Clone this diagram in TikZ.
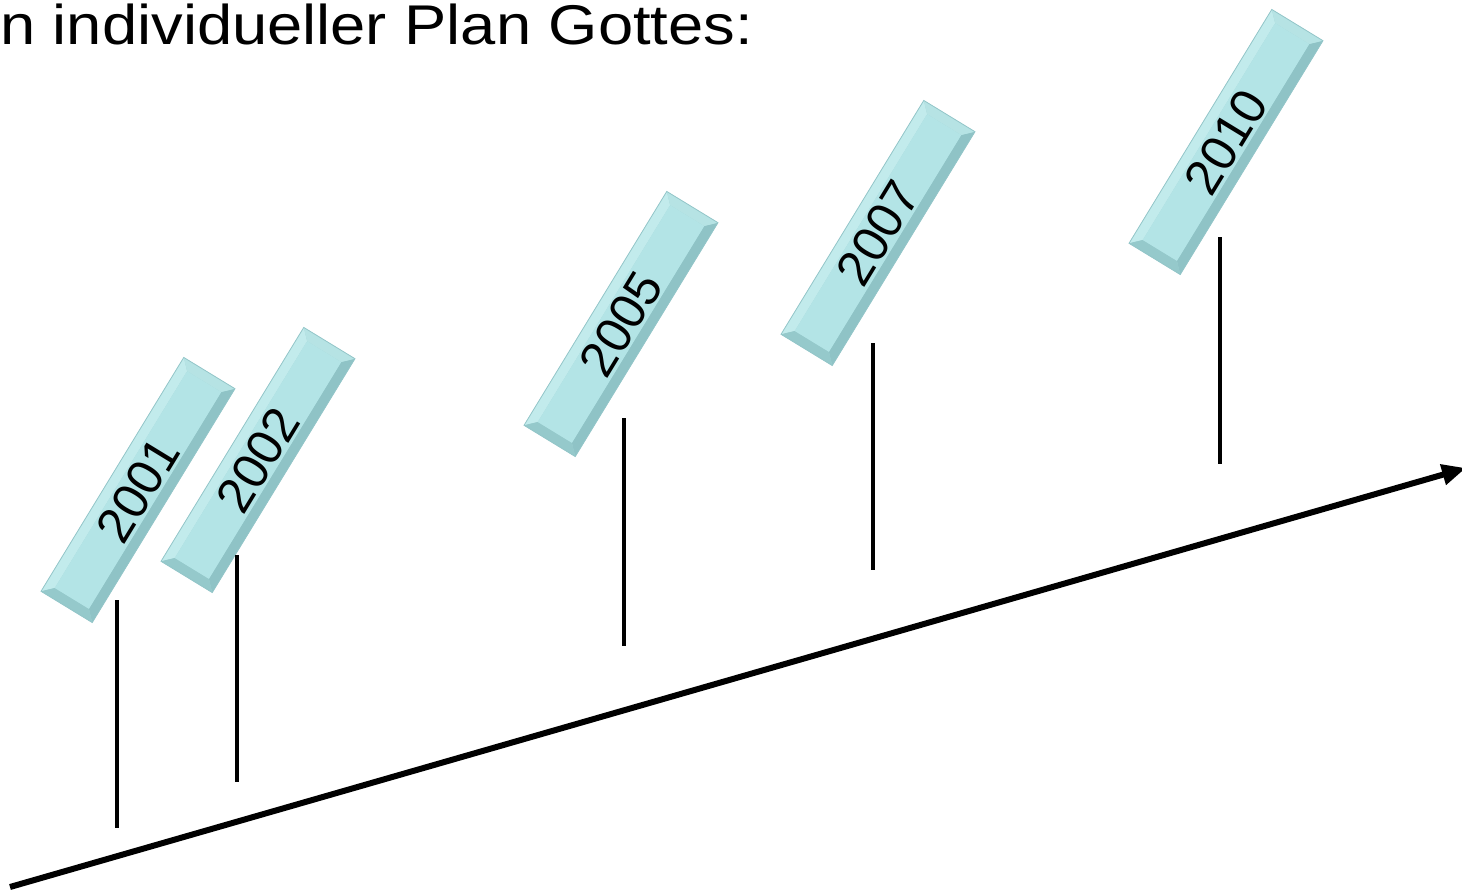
\documentclass[tikz,border=0pt]{standalone}
\usepackage{fontspec}
\setmainfont{Liberation Sans}
\usetikzlibrary{arrows.meta}
\definecolor{boxbase}{HTML}{A4D6D8}
\definecolor{boxface}{HTML}{B3E4E6}
\definecolor{boxlight}{HTML}{C2EBEC}
\definecolor{boxdark}{HTML}{8FC3C6}
\definecolor{boxedge}{HTML}{94C6C9}
\tikzset{
  tick/.style={line width=4pt},
  timeline/.style={line width=6pt, -{Triangle[length=24pt,width=20pt]}},
  yearlabel/.style={font=\fontsize{50}{50}\selectfont, rotate=58.6, inner sep=0pt},
  title/.style={font=\fontsize{56}{56}\selectfont, anchor=base west, inner sep=0pt, xscale=1.13},
}
\newcommand{\yearbox}[4]{% name, cx, cy, text
  \begin{scope}[shift={(#2,#3)}, rotate=58.6]
    \fill[boxbase] (-137,-30) rectangle (137,30);
    \fill[boxlight] (-137,-30) -- (137,-30) -- (127,-20) -- (-127,-20) -- cycle;
    \fill[boxdark] (-137,30) -- (137,30) -- (127,20) -- (-127,20) -- cycle;
    \fill[boxlight!60!boxbase] (137,-30) -- (137,30) -- (127,20) -- (127,-20) -- cycle;
    \fill[boxdark!70!boxbase] (-137,-30) -- (-137,30) -- (-127,20) -- (-127,-20) -- cycle;
    \fill[boxface] (-127,-20) rectangle (127,20);
    \draw[boxedge, line width=0.8pt] (-137,-30) rectangle (137,30);
  \end{scope}
  \node[yearlabel] (#1) at (#2,#3) {#4};
}
\begin{document}
\begin{tikzpicture}[x=1pt,y=-1pt]
\useasboundingbox (0,0) rectangle (1462,891);
\node[title] (title) at (0,45) {n individueller Plan Gottes:};
\yearbox{y2001}{138}{490}{2001}
\yearbox{y2002}{258}{460}{2002}
\yearbox{y2005}{621}{324}{2005}
\yearbox{y2007}{878}{233}{2007}
\yearbox{y2010}{1226}{142}{2010}
\coordinate (t1a) at (117,600); \coordinate (t1b) at (117,828);
\coordinate (t2a) at (237,555); \coordinate (t2b) at (237,782);
\coordinate (t5a) at (624,418); \coordinate (t5b) at (624,646);
\coordinate (t7a) at (873,343); \coordinate (t7b) at (873,570);
\coordinate (t10a) at (1220,237); \coordinate (t10b) at (1220,464);
\draw[tick] (t1a) -- (t1b);
\draw[tick] (t2a) -- (t2b);
\draw[tick] (t5a) -- (t5b);
\draw[tick] (t7a) -- (t7b);
\draw[tick] (t10a) -- (t10b);
\coordinate (start) at (10,887);
\coordinate (tip) at (1466,468);
\draw[timeline] (start) -- (tip);
\end{tikzpicture}
\end{document}
